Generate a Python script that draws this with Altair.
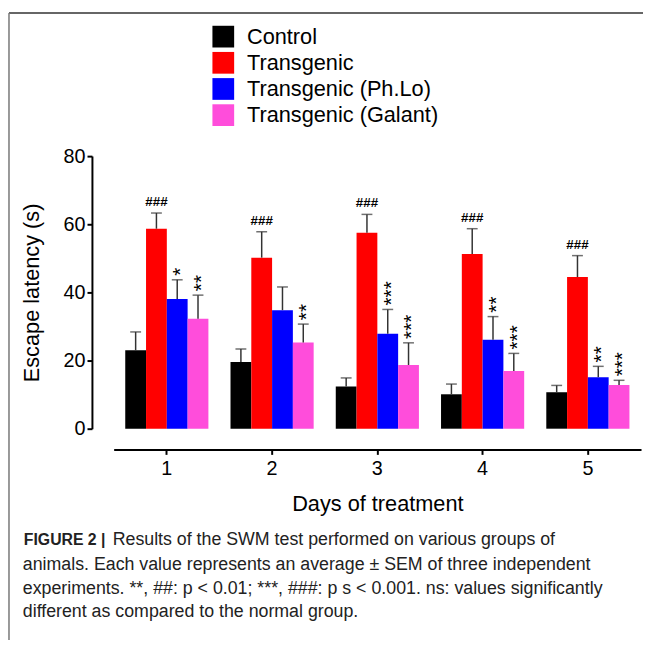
import altair as alt
import pandas as pd

days = ["1", "2", "3", "4", "5"]
groups = ["Control", "Transgenic", "Transgenic (Ph.Lo)", "Transgenic (Galant)"]
colors = ["#000000", "#FF0000", "#0000FF", "#FF4DDB"]

control_mean = [23.0, 19.6, 12.4, 10.1, 10.7]
control_sem = [5.4, 3.8, 2.5, 3.0, 2.0]
trans_mean = [58.7, 50.2, 57.5, 51.3, 44.5]
trans_sem = [4.6, 7.6, 5.4, 7.4, 6.3]
phlo_mean = [38.1, 34.8, 27.9, 26.1, 15.1]
phlo_sem = [5.6, 6.8, 7.1, 6.8, 3.2]
galant_mean = [32.3, 25.3, 18.7, 16.9, 12.8]
galant_sem = [6.9, 5.4, 6.5, 5.2, 1.4]

control_sig = ["", "", "", "", ""]
trans_sig = ["###", "###", "###", "###", "###"]
phlo_sig = ["*", "", "***", "**", "**"]
galant_sig = ["**", "**", "***", "***", "***"]

caption_bold = "FIGURE 2 |"
caption_lines = [
    "Results of the SWM test performed on various groups of",
    "animals. Each value represents an average \u00b1 SEM of three independent",
    "experiments. **, ##: p < 0.01; ***, ###: p s < 0.001. ns: values significantly",
    "different as compared to the normal group.",
]

FONT = "Liberation Sans"

rows = []
for g, means, sems, sigs in zip(
    groups,
    [control_mean, trans_mean, phlo_mean, galant_mean],
    [control_sem, trans_sem, phlo_sem, galant_sem],
    [control_sig, trans_sig, phlo_sig, galant_sig],
):
    for d, m, s, sg in zip(days, means, sems, sigs):
        rows.append({"day": d, "group": g, "mean": m, "upper": m + s, "sig": sg})
df = pd.DataFrame(rows)

W, H = 534, 276

x_enc = alt.X(
    "day:N",
    sort=days,
    scale=alt.Scale(paddingInner=0.21, paddingOuter=0.11),
    axis=alt.Axis(
        title="Days of treatment",
        labelAngle=0,
        offset=21,
        tickSize=5,
        labelPadding=4,
        titlePadding=16,
    ),
)
xo_enc = alt.XOffset("group:N", sort=groups, scale=alt.Scale(paddingInner=0, paddingOuter=0))
y_enc = alt.Y(
    "mean:Q",
    scale=alt.Scale(domain=[0, 80], nice=False),
    axis=alt.Axis(
        title="Escape latency (s)",
        values=[0, 20, 40, 60, 80],
        offset=22,
        tickSize=5,
        labelPadding=2,
        titlePadding=20,
    ),
)

base = alt.Chart(df)

bars = base.mark_bar().encode(
    x=x_enc,
    xOffset=xo_enc,
    y=y_enc,
    color=alt.Color(
        "group:N",
        sort=groups,
        scale=alt.Scale(domain=groups, range=colors),
        legend=alt.Legend(
            title=None,
            orient="none",
            legendX=100,
            legendY=-132,
            symbolType="square",
            symbolSize=484,
            symbolStrokeWidth=0,
            symbolOpacity=1,
            labelFontSize=22,
            labelFont=FONT,
            labelColor="#000000",
            labelOffset=13,
            labelLimit=0,
            rowPadding=4.5,
            padding=0,
        ),
    ),
)

err = base.mark_rule(color="#333333", strokeWidth=1.5).encode(
    x=alt.X("day:N", sort=days),
    xOffset=alt.XOffset("group:N", sort=groups),
    y="mean:Q",
    y2="upper:Q",
)

caps = base.mark_tick(color="#333333", thickness=1.5, size=11, orient="horizontal").encode(
    x=alt.X("day:N", sort=days),
    xOffset=alt.XOffset("group:N", sort=groups),
    y="upper:Q",
)

hashes = base.transform_filter(alt.datum.group == "Transgenic").mark_text(
    baseline="bottom", dy=-4, fontSize=13.5, fontWeight="bold", font=FONT, color="#000000"
).encode(
    x=alt.X("day:N", sort=days),
    xOffset=alt.XOffset("group:N", sort=groups),
    y="upper:Q",
    text="sig:N",
)

stars = base.transform_filter(
    (alt.datum.sig != "") & (alt.datum.group != "Transgenic")
).mark_text(
    angle=270, align="left", baseline="middle", dx=4, dy=4, fontSize=21, font=FONT, color="#000000"
).encode(
    x=alt.X("day:N", sort=days),
    xOffset=alt.XOffset("group:N", sort=groups),
    y="upper:Q",
    text="sig:N",
)

one = pd.DataFrame({"k": [0]})

frame_top = alt.Chart(one).mark_rule(color="#666666", strokeWidth=2).encode(
    x=alt.value(-106), x2=alt.value(545), y=alt.value(-145)
)
frame_left = alt.Chart(one).mark_rule(color="#777777", strokeWidth=1.5).encode(
    x=alt.value(-106), y=alt.value(-145), y2=alt.value(490)
)

cap_bold = alt.Chart(pd.DataFrame({"t": [caption_bold]})).mark_text(
    align="left", baseline="middle", fontSize=16, fontWeight="bold", font=FONT, color="#222222"
).encode(x=alt.value(-91), y=alt.value(389), text="t:N")

cap_df = pd.DataFrame(
    {
        "t": caption_lines,
        "xx": [-1, -92, -92, -92],
        "yy": [389, 414, 438, 462],
    }
)
cap_text = alt.Chart(cap_df).mark_text(
    align="left", baseline="middle", fontSize=18, font=FONT, color="#222222"
).encode(
    x=alt.X("xx:Q", scale=None),
    y=alt.Y("yy:Q", scale=None),
    text="t:N",
)

chart = (
    alt.layer(bars, err, caps, hashes, stars, frame_top, frame_left, cap_bold, cap_text)
    .resolve_scale(x="shared")
    .properties(
        width=W,
        height=H,
        padding={"left": 107, "top": 146, "right": 2, "bottom": 212},
        autosize=alt.AutoSizeParams(type="none"),
    )
    .configure_view(stroke=None)
    .configure_axis(
        grid=False,
        domainColor="#000000",
        domainWidth=2,
        tickColor="#000000",
        tickWidth=2,
        labelColor="#000000",
        labelFont=FONT,
        labelFontSize=20,
        titleFont=FONT,
        titleFontSize=22,
        titleFontWeight="normal",
        titleColor="#000000",
    )
)

chart.save("out.html", embed_options={"renderer": "svg", "actions": False})
